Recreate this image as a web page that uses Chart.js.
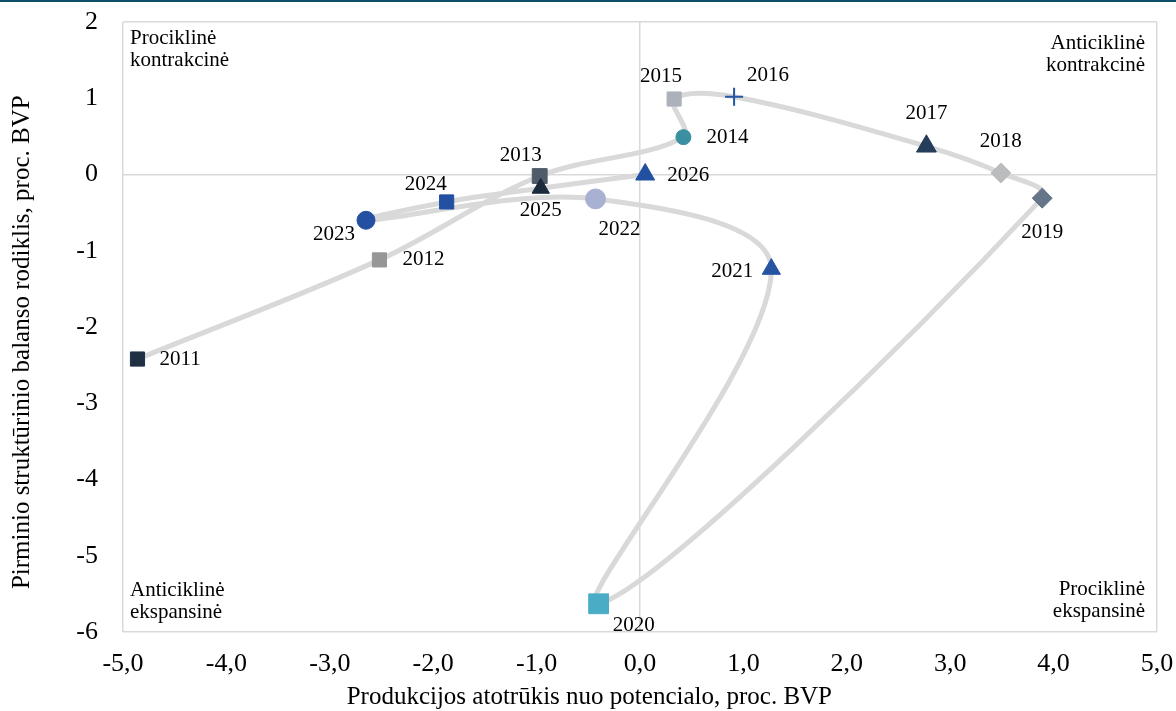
<!DOCTYPE html>
<html>
<head>
<meta charset="utf-8">
<script src="https://cdn.jsdelivr.net/npm/chart.js@4/dist/chart.umd.min.js"></script>
<style>
  html, body { margin: 0; padding: 0; background: #fff; }
  #wrap { width: 1176px; height: 711px; position: relative; }
</style>
</head>
<body>
<div id="wrap"><canvas id="fiscalCanvas"></canvas></div>
<script>
// data
var years = ['2011','2012','2013','2014','2015','2016','2017','2018','2019','2020','2021','2022','2023','2024','2025','2026'];
var outputGap = [-4.86, -2.52, -0.97, 0.42, 0.33, 0.91, 2.77, 3.49, 3.89, -0.40, 1.27, -0.43, -2.65, -1.87, -0.96, 0.05];
var primaryBalance = [-2.42, -1.12, -0.02, 0.49, 0.99, 1.02, 0.37, 0.02, -0.31, -5.63, -1.24, -0.32, -0.60, -0.36, -0.18, 0.00];
var xTicks = [-5, -4, -3, -2, -1, 0, 1, 2, 3, 4, 5];
var yTicks = [-6, -5, -4, -3, -2, -1, 0, 1, 2];
var xTitle = 'Produkcijos atotrūkis nuo potencialo, proc. BVP';
var yTitle = 'Pirminio struktūrinio balanso rodiklis, proc. BVP';
var quadrantLabels = [
    ['Prociklinė', 'kontrakcinė'],
    ['Anticiklinė', 'kontrakcinė'],
    ['Anticiklinė', 'ekspansinė'],
    ['Prociklinė', 'ekspansinė']
];

// marker styles per year
var markerShape = ['rect','rect','rect','circle','rect','cross','triangle','rectRot','rectRot','rect','triangle','circle','circle','rect','triangle','triangle'];
var markerColor = ['#1f3044','#969696','#4f5b69','#3a8fa0','#adb2ba','#2554a3','#263d5a','#bbbcbe','#65758a','#4bacc6','#2554a3','#a9b1d3','#2350a0','#2350a0','#1b2a3d','#2150a0'];
var markerSize = [10, 10, 10.5, 7.5, 10, 9, 11.5, 10, 10, 14, 10.5, 10, 9, 10, 10, 11];
// label offset from the point [dx, dy, align]
var labelPos = [
    [22, 0, 'left'], [23, 0, 'left'], [-19, -21, 'center'], [23, 0, 'left'],
    [-13, -23, 'center'], [34, -21, 'center'], [0, -33, 'center'], [0, -31, 'center'],
    [0, 34, 'center'], [35, 22, 'center'], [-18, 2, 'right'], [24, 31, 'center'],
    [-32, 14, 'center'], [-21, -17, 'center'], [0, 22, 'center'], [22, 1, 'left']
];

var points = [];
for (var i = 0; i < years.length; i++) {
    points.push({ x: outputGap[i], y: primaryBalance[i] });
}

function fmtComma(v) {
    return v.toFixed(1).replace('.', ',');
}

var serif = '"Liberation Serif", "Times New Roman", serif';

var annotatePlugin = {
    id: 'annotate',
    beforeDraw: function (chart) {
        var c = chart.ctx;
        c.save();
        c.fillStyle = '#0e4f68';
        c.fillRect(0, 0, chart.width, 2);
        c.restore();
    },
    afterDraw: function (chart) {
        var c = chart.ctx;
        var a = chart.chartArea;
        c.save();
        c.fillStyle = '#000';
        c.font = '25px ' + serif;
        c.textAlign = 'center';
        c.textBaseline = 'middle';
        c.fillText(xTitle, a.left + (a.right - a.left) * 0.451, 697);
        c.translate(22, a.top + (a.bottom - a.top) * 0.525);
        c.rotate(-Math.PI / 2);
        c.fillText(yTitle, 0, 0);
        c.restore();
    },
    afterDatasetsDraw: function (chart) {
        var c = chart.ctx;
        var meta = chart.getDatasetMeta(0);
        c.save();
        c.fillStyle = '#000';
        c.font = '21px ' + serif;
        c.textBaseline = 'middle';
        meta.data.forEach(function (pt, i) {
            c.textAlign = labelPos[i][2];
            c.fillText(years[i], pt.x + labelPos[i][0], pt.y + labelPos[i][1]);
        });

        var a = chart.chartArea;
        c.textBaseline = 'alphabetic';
        c.textAlign = 'left';
        c.fillText(quadrantLabels[0][0], a.left + 7, a.top + 22);
        c.fillText(quadrantLabels[0][1], a.left + 7, a.top + 44);
        c.textAlign = 'right';
        c.fillText(quadrantLabels[1][0], a.right - 12, a.top + 27);
        c.fillText(quadrantLabels[1][1], a.right - 12, a.top + 49);
        c.textAlign = 'left';
        c.fillText(quadrantLabels[2][0], a.left + 7, a.bottom - 36);
        c.fillText(quadrantLabels[2][1], a.left + 7, a.bottom - 14);
        c.textAlign = 'right';
        c.fillText(quadrantLabels[3][0], a.right - 12, a.bottom - 37);
        c.fillText(quadrantLabels[3][1], a.right - 12, a.bottom - 15);
        c.restore();
    }
};

function edgeOrZero(min, max) {
    return function (ctx) {
        var v = ctx.tick ? ctx.tick.value : null;
        return (v === 0 || v === min || v === max) ? '#d9d9d9' : 'rgba(0,0,0,0)';
    };
}

var ctx = document.getElementById('fiscalCanvas').getContext('2d');
var fiscalChart = new Chart(ctx, {
    type: 'scatter',
    data: {
        datasets: [{
            data: points,
            showLine: true,
            borderColor: '#d9d9d9',
            borderWidth: 5,
            tension: 0.35,
            pointStyle: markerShape,
            pointRadius: markerSize,
            pointBackgroundColor: markerColor,
            pointBorderColor: markerColor,
            pointBorderWidth: markerShape.map(function (s) { return s === 'cross' ? 2 : 1; })
        }]
    },
    options: {
        responsive: true,
        maintainAspectRatio: false,
        animation: false,
        layout: { autoPadding: false, padding: 0 },
        plugins: {
            legend: { display: false },
            tooltip: { enabled: false }
        },
        scales: {
            x: {
                type: 'linear',
                min: -5, max: 5,
                afterBuildTicks: function (s) { s.ticks = xTicks.map(function (v) { return { value: v }; }); },
                afterFit: function (s) {
                    s.height = 79;
                    s.paddingLeft = 0;
                    s.paddingRight = 19;
                },
                grid: { color: edgeOrZero(-5, 5), lineWidth: 1.5, drawTicks: false },
                border: { display: false },
                ticks: {
                    padding: 17,
                    color: '#000',
                    font: { family: serif, size: 26 },
                    callback: function (v) { return fmtComma(v); }
                }
            },
            y: {
                type: 'linear',
                min: -6, max: 2,
                afterBuildTicks: function (s) { s.ticks = yTicks.map(function (v) { return { value: v }; }); },
                afterFit: function (s) {
                    s.width = 123;
                    s.paddingTop = 22;
                    s.paddingBottom = 0;
                },
                grid: { color: edgeOrZero(-6, 2), lineWidth: 1.5, drawTicks: false },
                border: { display: false },
                ticks: {
                    padding: 25,
                    color: '#000',
                    font: { family: serif, size: 26 },
                    callback: function (v) { return String(v); }
                }
            }
        }
    },
    plugins: [annotatePlugin]
});
</script>
</body>
</html>
